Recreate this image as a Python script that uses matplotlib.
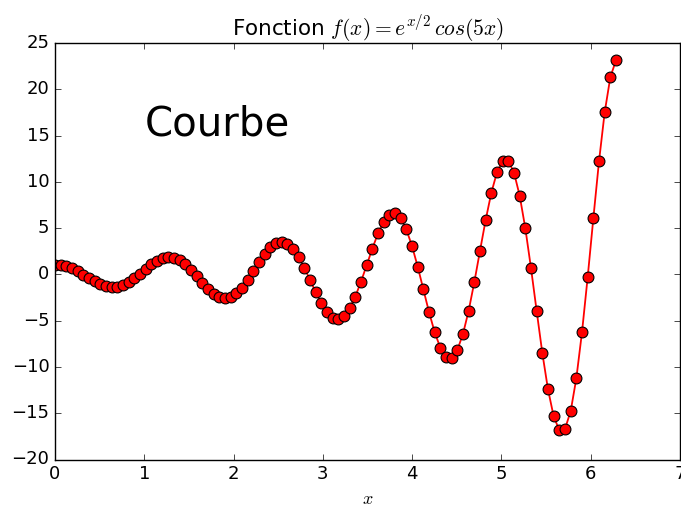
import matplotlib
matplotlib.use("Agg")
import matplotlib.pyplot as plt

plt.style.use("classic")

# x sampled on [0, 2pi], 100 points
x_vals = [i * 0.0634665 for i in range(100)]

# f(x) values
y_vals = [
    1.00, 0.98, 0.86, 0.64, 0.34, -0.02, -0.40, -0.76, -1.06, -1.28,
    -1.37, -1.33, -1.15, -0.84, -0.42, 0.08, 0.59, 1.08, 1.49, 1.77,
    1.88, 1.81, 1.54, 1.09, 0.51, -0.18, -0.88, -1.54, -2.09, -2.45,
    -2.58, -2.45, -2.06, -1.43, -0.60, 0.34, 1.30, 2.20, 2.92, 3.39,
    3.53, 3.32, 2.74, 1.85, 0.70, -0.59, -1.91, -3.12, -4.08, -4.68,
    -4.83, -4.48, -3.65, -2.39, -0.79, 0.99, 2.79, 4.42, 5.69, 6.45,
    6.59, 6.06, 4.85, 3.07, 0.85, -1.61, -4.06, -6.25, -7.93, -8.89,
    -8.99, -8.17, -6.43, -3.92, -0.83, 2.55, 5.88, 8.82, 11.04, 12.24,
    12.26, 11.00, 8.51, 4.98, 0.68, -3.96, -8.50, -12.43, -15.34, -16.84,
    -16.69, -14.79, -11.23, -6.25, -0.31, 6.05, 12.21, 17.50, 21.30, 23.14,
]

fig = plt.figure(figsize=(6.81, 5.07), dpi=100)
ax = fig.add_axes([55 / 681, (507 - 459.5) / 507, (680 - 55) / 681, (459.5 - 43) / 507])

ax.plot(x_vals, y_vals, "r-", lw=1.3)
ax.plot(x_vals, y_vals, "o", color="red", markeredgecolor="black",
        markeredgewidth=0.8, markersize=7.8)

ax.set_xlim(0, 7)
ax.set_ylim(-20, 25)
ax.tick_params(labelsize=13)
ax.set_title(r"Fonction $f(x)=e^{x/2} \, cos(5x)$", fontsize=15.5)
ax.set_xlabel(r"$x$", fontsize=13)
ax.text(1, 15, "Courbe", fontsize=29)

fig.savefig("out.png", dpi=100)
